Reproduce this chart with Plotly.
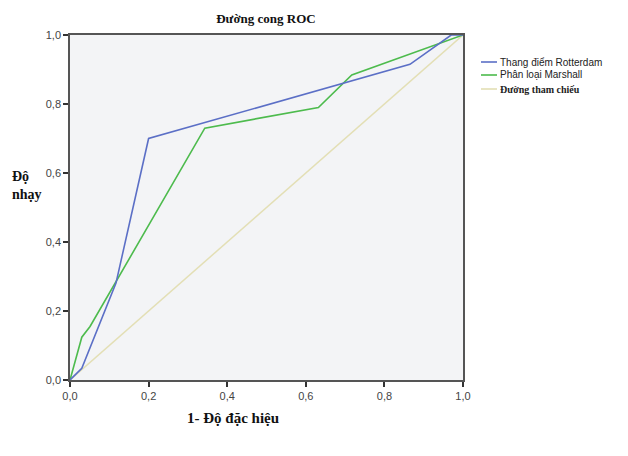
import plotly.graph_objects as go

series_names = ["Thang điểm Rotterdam", "Phân loại Marshall", "Đường tham chiếu"]
rott_x = [0.0, 0.03, 0.117, 0.20, 0.865, 0.97, 1.0]
rott_y = [0.0, 0.034, 0.281, 0.70, 0.915, 1.0, 1.0]
mars_x = [0.0, 0.03, 0.051, 0.343, 0.632, 0.717, 1.0]
mars_y = [0.0, 0.124, 0.155, 0.73, 0.79, 0.884, 1.0]
ref_x = [0.0, 1.0]
ref_y = [0.0, 1.0]
tick_vals = [0.0, 0.2, 0.4, 0.6, 0.8, 1.0]
tick_text = ["0,0", "0,2", "0,4", "0,6", "0,8", "1,0"]
colors = ["#5b6fc6", "#4dbb4d", "#e3dfb5"]

# page body has an 8px margin, so figure pixel = screen pixel - 8
W, H = 620, 448
L, T = 62, 27
PW, PH = 393, 345


def px(X):
    return (X - 70) / PW


def py(Y):
    return (380 - Y) / PH


fig = go.Figure()
fig.add_trace(go.Scatter(x=ref_x, y=ref_y, mode="lines", name=series_names[2],
                         line=dict(color=colors[2], width=1.5)))
fig.add_trace(go.Scatter(x=mars_x, y=mars_y, mode="lines", name=series_names[1],
                         line=dict(color=colors[1], width=1.6)))
fig.add_trace(go.Scatter(x=rott_x, y=rott_y, mode="lines", name=series_names[0],
                         line=dict(color=colors[0], width=1.6)))

axis_common = dict(range=[0, 1], tickvals=tick_vals, ticktext=tick_text,
                   ticks="outside", ticklen=5, tickcolor="#333", tickwidth=1.5,
                   showgrid=False, zeroline=False, showline=True, linecolor="#555",
                   linewidth=1.5, mirror=True,
                   tickfont=dict(family="Liberation Sans", size=11, color="#444"))
fig.update_xaxes(**axis_common)
fig.update_yaxes(**axis_common)

# manual legend
leg_y = [62, 75, 89]
fonts = [dict(family="Liberation Sans", size=10, color="#222"),
         dict(family="Liberation Sans", size=10, color="#222"),
         dict(family="Liberation Serif", size=10, color="#222")]
for i in range(3):
    yy = py(leg_y[i])
    fig.add_shape(type="line", xref="paper", yref="paper",
                  x0=px(481), x1=px(497), y0=yy, y1=yy,
                  line=dict(color=colors[i], width=1.6))
    txt = series_names[i] if i < 2 else "<b>" + series_names[i] + "</b>"
    fig.add_annotation(text=txt, xref="paper", yref="paper",
                       x=px(498), y=yy, xanchor="left", yanchor="middle",
                       showarrow=False, font=fonts[i])

fig.add_annotation(text="<b>Độ<br>nhạy</b>", xref="paper", yref="paper",
                   x=px(10), y=py(185), xanchor="left", yanchor="middle",
                   align="left", showarrow=False,
                   font=dict(family="Liberation Serif", size=14, color="#111"))
fig.add_annotation(text="<b>1- Độ đặc hiệu</b>", xref="paper", yref="paper",
                   x=px(233), y=py(418), xanchor="center", yanchor="middle",
                   showarrow=False,
                   font=dict(family="Liberation Serif", size=15, color="#111"))

fig.update_layout(
    width=W, height=H,
    margin=dict(l=L, r=W - L - PW, t=T, b=H - T - PH),
    paper_bgcolor="white", plot_bgcolor="#f3f4f6",
    showlegend=False,
    title=dict(text="<b>Đường cong ROC</b>", x=(266 - 8) / W, xanchor="center",
               y=1 - (18 - 8) / H, yanchor="middle",
               font=dict(family="Liberation Serif", size=13, color="#111")),
)

fig.write_html("out.html")
